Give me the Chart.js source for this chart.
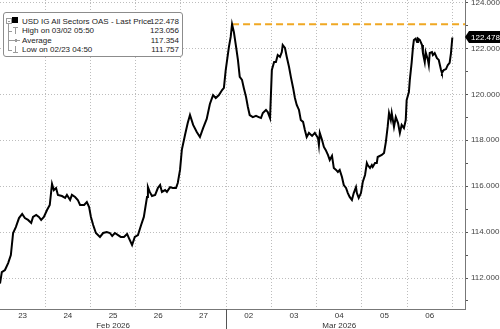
<!DOCTYPE html>
<html>
<head>
<meta charset="utf-8">
<script src="https://cdn.jsdelivr.net/npm/chart.js@4.4.1/dist/chart.umd.min.js"></script>
<style>
  body { margin: 0; background: #fff; }
  #wrap { position: relative; width: 500px; height: 329px; }
  #legend {
    position: absolute; left: 3px; top: 12px; width: 178px; height: 43px;
    border: 1px solid #8c8c8c; border-radius: 3px; background: #fff;
    font: 8px "Liberation Sans", Arial, sans-serif; color: #222;
  }
  #legend .row { position: absolute; left: 18px; right: 3px; height: 10px; line-height: 10px; white-space: nowrap; }
  #legend .row .v { position: absolute; right: 0; top: 0; }
  #legend .ln { position: absolute; background: #9a9a9a; }
  #legend .sq { position: absolute; left: 8px; top: 4px; width: 6px; height: 6px; background: #000; }
  #legend .box { position: absolute; left: 2px; top: 5px; width: 4px; height: 4px; border: 1px solid #9a9a9a; }
</style>
</head>
<body>
<div id="wrap">
  <canvas id="chart" width="500" height="329"></canvas>
  <div id="legend"></div>
</div>
<script>
"use strict";

// DATA -----------------------
// x = trading-day position (0 = start of Mon 23 Feb), y = OAS in bp
const dayPos = [
  0.00, 0.04, 0.11, 0.18, 0.24, 0.29, 0.35, 0.42, 0.49, 0.55, 0.62, 0.69, 0.73, 0.80, 0.86, 0.91, 0.97,
  1.04, 1.10, 1.15, 1.19, 1.24, 1.28, 1.37, 1.44, 1.48, 1.55, 1.59, 1.66, 1.72, 1.77, 1.86, 1.92, 1.97,
  2.01, 2.06, 2.12, 2.21, 2.28, 2.36, 2.43, 2.48, 2.54, 2.61, 2.67, 2.74, 2.81, 2.85, 2.92, 2.98,
  3.05, 3.12, 3.18, 3.25, 3.27, 3.31, 3.36, 3.43, 3.49, 3.54, 3.58, 3.65, 3.69, 3.76, 3.82, 3.89, 3.93, 3.98,
  4.02, 4.09, 4.15, 4.20, 4.27, 4.35, 4.42, 4.49, 4.57, 4.64, 4.71, 4.77, 4.84, 4.91, 4.95, 4.99,
  5.06, 5.10, 5.13, 5.17, 5.22, 5.26, 5.30, 5.35, 5.39, 5.44, 5.48, 5.52, 5.59, 5.66, 5.72, 5.77, 5.81, 5.88, 5.92, 5.97,
  6.01, 6.06, 6.10, 6.14, 6.19, 6.23, 6.25, 6.30, 6.34, 6.39, 6.43, 6.48, 6.52, 6.56, 6.61, 6.65, 6.70, 6.74, 6.78, 6.83, 6.90, 6.96,
  7.03, 7.05, 7.07, 7.12, 7.16, 7.20, 7.25, 7.29, 7.34, 7.38, 7.43, 7.47, 7.51, 7.56, 7.60, 7.65, 7.69, 7.73, 7.78, 7.82, 7.87, 7.89, 7.93, 7.98,
  8.02, 8.07, 8.11, 8.13, 8.18, 8.22, 8.24, 8.29, 8.33, 8.35, 8.44, 8.49, 8.53, 8.57, 8.60, 8.64, 8.66, 8.71, 8.75, 8.80, 8.84, 8.88, 8.93, 8.97,
  8.99, 9.04, 9.06, 9.10, 9.13, 9.15, 9.19, 9.22, 9.24, 9.28, 9.33, 9.35, 9.39, 9.41, 9.46, 9.48, 9.50, 9.55, 9.57, 9.61,
  9.66, 9.70, 9.75, 9.77, 9.81, 9.86, 9.90, 9.94, 9.97, 10.00
];

const oas = [
  111.757, 112.26, 112.35, 112.65, 113.00, 113.96, 114.22, 114.61, 114.79, 114.61, 114.53, 114.40, 114.66, 114.75, 114.66, 114.53, 114.66,
  114.96, 115.18, 116.10, 115.83, 115.92, 115.62, 115.57, 115.49, 115.62, 115.40, 115.62, 115.53, 115.40, 115.18, 115.18, 115.31, 115.09,
  114.66, 114.31, 113.96, 113.79, 113.96, 114.00, 113.96, 113.83, 113.96, 113.87, 113.79, 113.79, 113.92, 113.74, 113.44, 113.79,
  113.87, 114.31, 114.66, 115.53, 115.96, 115.75, 115.57, 115.62, 115.92, 116.05, 115.75, 115.83, 115.75, 115.96, 115.92, 115.92, 116.14, 116.71,
  117.58, 118.23, 118.75, 119.10, 118.67, 118.36, 118.14, 118.53, 118.93, 119.58, 119.97, 119.84, 119.97, 120.19, 120.28, 121.06,
  122.06, 122.50, 123.056, 122.72, 122.06, 121.50, 120.76, 120.63, 120.28, 119.88, 119.45, 119.10, 119.01, 119.06, 119.01, 118.97, 119.19, 119.32, 119.23, 118.97,
  121.06, 121.41, 121.41, 121.71, 121.63, 121.84, 122.15, 122.02, 121.63, 121.19, 120.76, 120.28, 119.84, 119.54, 119.32, 118.88, 118.80, 118.45, 118.14, 118.32, 118.19, 118.32,
  118.10, 117.79, 118.32, 118.01, 117.71, 117.58, 117.36, 117.14, 117.32, 116.79, 116.71, 116.62, 116.71, 116.40, 116.05, 115.92, 115.70, 115.53, 115.40, 115.70, 115.96, 115.70, 115.49, 115.70,
  116.18, 116.49, 117.01, 116.92, 116.79, 116.92, 116.84, 117.01, 117.01, 117.27, 117.36, 117.45, 117.92, 118.58, 119.19, 118.88, 119.19, 118.58, 119.01, 118.75, 118.32, 118.67, 118.53, 118.88,
  119.75, 120.10, 120.63, 121.37, 122.06, 122.37, 122.43, 122.28, 122.43, 122.37, 122.15, 121.80, 121.41, 121.84, 121.50, 121.28, 121.80, 121.84, 121.71, 121.80,
  121.58, 121.50, 121.06, 120.93, 121.06, 121.10, 121.28, 121.37, 121.80, 122.478
];

const dayLabels = ['23', '24', '25', '26', '27', '02', '03', '04', '05', '06'];
const monthLabels = { 2: 'Feb 2026', 7: 'Mar 2026' };   // shown under the day at that index
const monthStarts = [5];                                 // trading day where March begins
const yTicks = [111, 112, 113, 114, 115, 116, 117, 118, 119, 120, 121, 122, 123, 124];

const seriesName = 'USD IG All Sectors OAS - Last Price';
const lastValue = 122.478;
const highLabel = 'High on 03/02 05:50';
const highValue = 123.056;
const highPos = 5.13;
const avgLabel = 'Average';
const avgValue = 117.354;
const lowLabel = 'Low on 02/23 04:50';
const lowValue = 111.757;

const X_MAX = 10.28;
const Y_MIN = 110.65;
const Y_MAX = 124.11;
const FONT = '"Liberation Sans", Arial, sans-serif';

// LEGEND BOX -----------------------
function buildLegend() {
  const el = document.getElementById('legend');
  const rows = [
    [seriesName, lastValue, 4],
    [highLabel, highValue, 13],
    [avgLabel, avgValue, 22.5],
    [lowLabel, lowValue, 32]
  ];
  let html = '<div class="box"><div class="ln" style="left:1px;top:2px;width:2px;height:1px"></div></div>';
  html += '<div class="sq"></div>';
  // tree lines
  html += '<div class="ln" style="left:4px;top:10px;width:1px;height:27px"></div>';
  [18, 27, 37].forEach(t => {
    html += `<div class="ln" style="left:4px;top:${t}px;width:4px;height:1px"></div>`;
  });
  // high icon
  html += '<div class="ln" style="left:9px;top:14px;width:5px;height:1px"></div>';
  html += '<div class="ln" style="left:11px;top:14px;width:1px;height:7px"></div>';
  // average icon
  html += '<div class="ln" style="left:8px;top:27px;width:8px;height:1px"></div>';
  html += '<div class="ln" style="left:11px;top:26px;width:2px;height:3px"></div>';
  // low icon
  html += '<div class="ln" style="left:11px;top:33px;width:1px;height:7px"></div>';
  html += '<div class="ln" style="left:9px;top:39px;width:5px;height:1px"></div>';
  rows.forEach(([label, value, top]) => {
    html += `<div class="row" style="top:${top}px">${label}<span class="v">${value.toFixed(3)}</span></div>`;
  });
  el.innerHTML = html;
}
buildLegend();

// PLUGINS -----------------------

// solid tick below the axis where a new month starts
const monthDivider = {
  id: 'monthDivider',
  afterDraw(chart) {
    const { ctx, chartArea, scales: { x } } = chart;
    ctx.save();
    ctx.strokeStyle = '#555';
    ctx.lineWidth = 1;
    monthStarts.forEach(d => {
      const px = Math.round(x.getPixelForValue(d)) + 0.5;
      ctx.beginPath();
      ctx.moveTo(px, chartArea.bottom);
      ctx.lineTo(px, chart.height);
      ctx.stroke();
    });
    ctx.restore();
  }
};

// black last-price tag on the right axis
const lastTag = {
  id: 'lastTag',
  afterDraw(chart) {
    const { ctx, chartArea, scales: { y } } = chart;
    const py = Math.round(y.getPixelForValue(lastValue));
    const x0 = chartArea.right;
    ctx.save();
    ctx.fillStyle = '#000';
    ctx.beginPath();
    ctx.moveTo(x0, py);
    ctx.lineTo(x0 + 4, py - 6);
    ctx.lineTo(chart.width, py - 6);
    ctx.lineTo(chart.width, py + 6);
    ctx.lineTo(x0 + 4, py + 6);
    ctx.closePath();
    ctx.fill();
    ctx.fillStyle = '#fff';
    ctx.font = '8px ' + FONT;
    ctx.textBaseline = 'middle';
    ctx.textAlign = 'left';
    ctx.fillText(lastValue.toFixed(3), x0 + 6, py + 0.5);
    ctx.restore();
  }
};

// CHART -----------------------
new Chart(document.getElementById('chart'), {
  type: 'line',
  data: {
    datasets: [
      {
        label: seriesName,
        data: dayPos.map((d, i) => ({ x: d, y: oas[i] })),
        borderColor: '#000',
        borderWidth: 2,
        pointRadius: 0,
        tension: 0,
        order: 1
      },
      {
        label: highLabel,
        data: [{ x: highPos, y: highValue }, { x: X_MAX, y: highValue }],
        borderColor: '#f0a823',
        borderWidth: 2,
        borderDash: [7, 4],
        pointRadius: 0,
        order: 2
      }
    ]
  },
  options: {
    responsive: false,
    animation: false,
    layout: { padding: 0 },
    plugins: {
      legend: { display: false },
      tooltip: { enabled: false }
    },
    scales: {
      x: {
        type: 'linear',
        min: 0,
        max: X_MAX,
        bounds: 'data',
        afterBuildTicks: s => { s.ticks = dayLabels.map((_, i) => ({ value: i + 0.5 })); },
        afterFit: s => { s.height = 20; s.paddingLeft = 0; s.paddingRight = 0; },
        ticks: {
          autoSkip: false,
          maxRotation: 0,
          padding: 2,
          color: '#333',
          font: { family: FONT, size: 8 },
          callback: (v, i) => monthLabels[i] ? [dayLabels[i], monthLabels[i]] : dayLabels[i]
        },
        grid: {
          offset: true,
          drawTicks: false,
          color: c => (c.index >= dayLabels.length ? 'rgba(0,0,0,0)' : '#bdbdbd')
        },
        border: { display: true, color: '#777', width: 1, dash: [1, 2] }
      },
      y: {
        position: 'right',
        min: Y_MIN,
        max: Y_MAX,
        bounds: 'data',
        afterBuildTicks: s => { s.ticks = yTicks.map(v => ({ value: v })); },
        afterFit: s => { s.width = 35; s.paddingTop = 0; s.paddingBottom = 0; },
        ticks: {
          autoSkip: false,
          padding: 3,
          color: '#444',
          font: { family: FONT, size: 8 },
          callback: v => (v % 2 === 0 ? v.toFixed(3) : '')
        },
        grid: {
          color: c => (c.tick && c.tick.value % 2 === 0 ? '#bdbdbd' : 'rgba(0,0,0,0)'),
          tickLength: 3,
          tickColor: '#555'
        },
        border: { display: true, color: '#777', width: 1, dash: [1, 2] }
      }
    }
  },
  plugins: [monthDivider, lastTag]
});
</script>
</body>
</html>
